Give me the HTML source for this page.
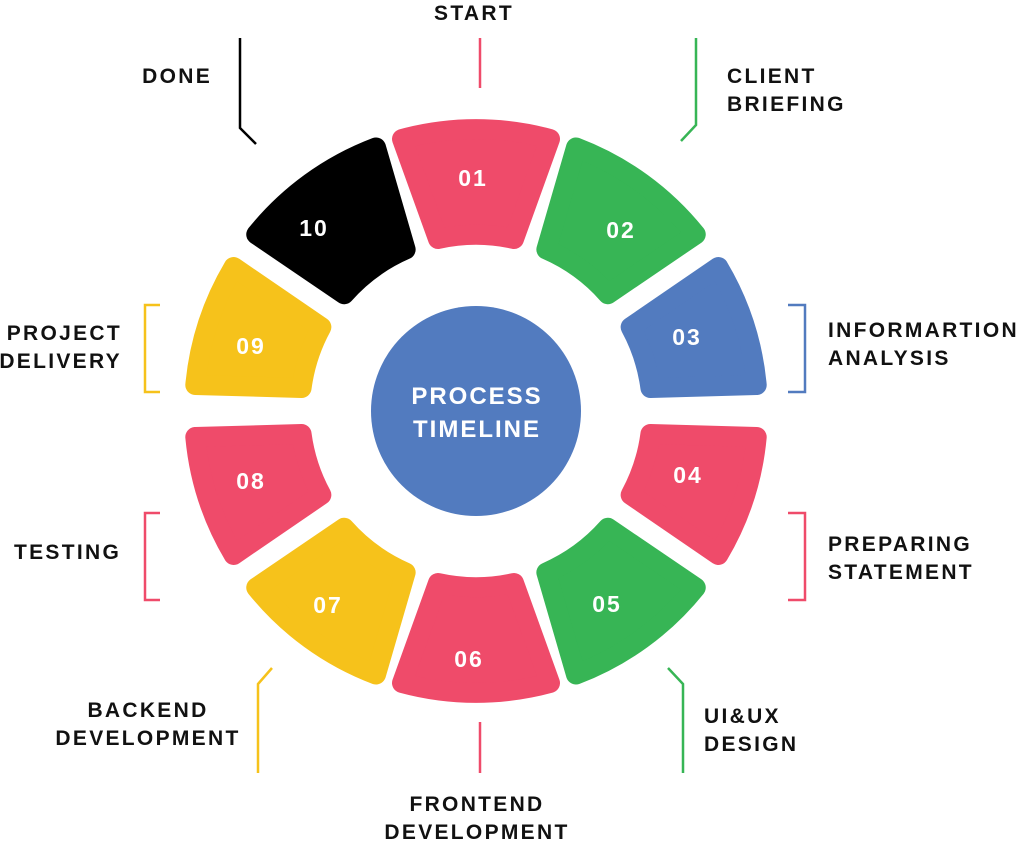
<!DOCTYPE html>
<html><head><meta charset="utf-8"><style>
html,body{margin:0;padding:0;background:#fff;}
svg{display:block;}
text{font-family:"Liberation Sans",sans-serif;font-weight:bold;}
</style></head><body>
<svg width="1024" height="844" viewBox="0 0 1024 844" xmlns="http://www.w3.org/2000/svg">
<defs>
<path id="seg" d="M -74 -272 A 282 282 0 0 1 74 -272 L 38 -172 A 176 176 0 0 0 -38 -172 Z" stroke-width="20" stroke-linejoin="round"/>
<path id="segn" d="M -62 -275 A 282 282 0 0 1 62 -275 L 32 -173 A 176 176 0 0 0 -32 -173 Z" stroke-width="20" stroke-linejoin="round"/>
</defs>
<g transform="translate(476,411)">
<use href="#seg" fill="#EF4B6A" stroke="#EF4B6A" transform="rotate(0)"/>
<use href="#seg" fill="#37B555" stroke="#37B555" transform="rotate(36)"/>
<use href="#segn" fill="#527BBF" stroke="#527BBF" transform="rotate(72)"/>
<use href="#segn" fill="#EF4B6A" stroke="#EF4B6A" transform="rotate(108)"/>
<use href="#seg" fill="#37B555" stroke="#37B555" transform="rotate(144)"/>
<use href="#seg" fill="#EF4B6A" stroke="#EF4B6A" transform="rotate(180)"/>
<use href="#seg" fill="#F6C21B" stroke="#F6C21B" transform="rotate(216)"/>
<use href="#segn" fill="#EF4B6A" stroke="#EF4B6A" transform="rotate(252)"/>
<use href="#segn" fill="#F6C21B" stroke="#F6C21B" transform="rotate(288)"/>
<use href="#seg" fill="#000" stroke="#000" transform="rotate(324)"/>
</g>
<circle cx="476" cy="411" r="105" fill="#527BBF"/>
<g fill="#fff" font-size="24" text-anchor="middle" letter-spacing="2">
<text x="477" y="404">PROCESS</text>
<text x="477" y="437">TIMELINE</text>
</g>
<g fill="#fff" font-size="23" text-anchor="middle" letter-spacing="2">
<text x="473" y="186">01</text>
<text x="621" y="238">02</text>
<text x="687" y="345">03</text>
<text x="688" y="483">04</text>
<text x="607" y="612">05</text>
<text x="469" y="667">06</text>
<text x="328" y="613">07</text>
<text x="251" y="489">08</text>
<text x="251" y="354">09</text>
<text x="314" y="236">10</text>
</g>
<g fill="none" stroke-width="2.5">
<path d="M480 38V88" stroke="#EF4B6A"/>
<path d="M696 38V125L681 141" stroke="#37B555"/>
<path d="M240 38V128L256 144" stroke="#000"/>
<path d="M788 305H805V392H788" stroke="#527BBF"/>
<path d="M160 305H145V392H160" stroke="#F6C21B"/>
<path d="M160 513H145V600H160" stroke="#EF4B6A"/>
<path d="M788 513H805V600H788" stroke="#EF4B6A"/>
<path d="M668 668L683 684V773" stroke="#37B555"/>
<path d="M272 668L258 684V773" stroke="#F6C21B"/>
<path d="M480 722V773" stroke="#EF4B6A"/>
</g>
<g fill="#111" font-size="21" letter-spacing="2.3">
<text x="474" y="20" text-anchor="middle">START</text>
<text x="727" y="83">CLIENT</text>
<text x="727" y="111">BRIEFING</text>
<text x="212" y="83" text-anchor="end">DONE</text>
<text x="828" y="337">INFORMARTION</text>
<text x="828" y="365">ANALYSIS</text>
<text x="122" y="340" text-anchor="end">PROJECT</text>
<text x="122" y="368" text-anchor="end">DELIVERY</text>
<text x="14" y="559">TESTING</text>
<text x="828" y="551">PREPARING</text>
<text x="828" y="579">STATEMENT</text>
<text x="704" y="723">UI&amp;UX</text>
<text x="704" y="751">DESIGN</text>
<text x="148" y="717" text-anchor="middle">BACKEND</text>
<text x="148" y="745" text-anchor="middle">DEVELOPMENT</text>
<text x="477" y="811" text-anchor="middle">FRONTEND</text>
<text x="477" y="839" text-anchor="middle">DEVELOPMENT</text>
</g>
</svg>
</body></html>
